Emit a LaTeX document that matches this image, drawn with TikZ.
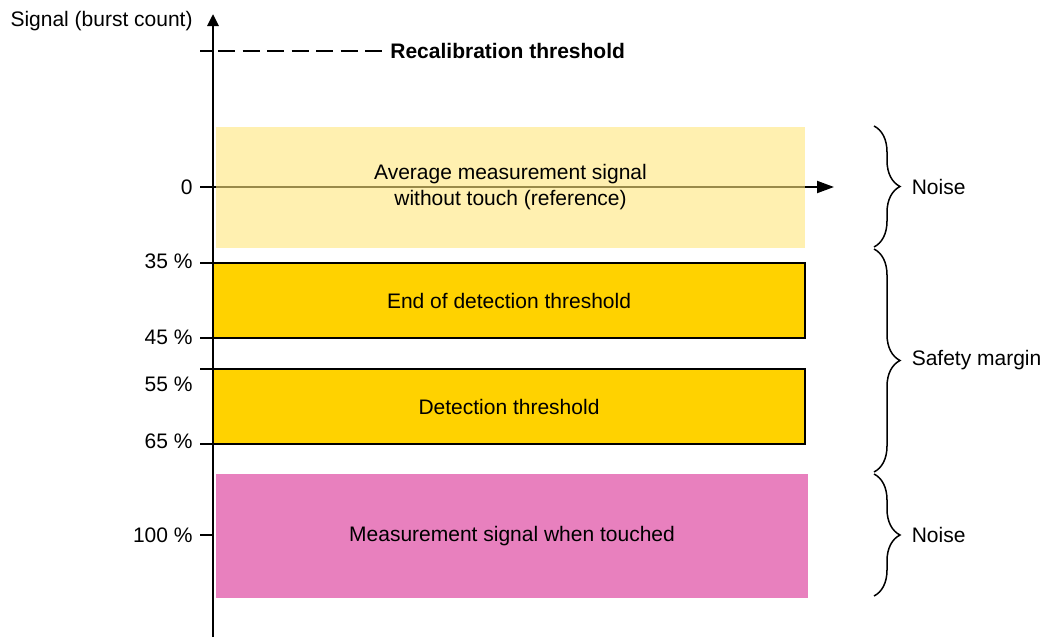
\documentclass[tikz,border=0pt]{standalone}
\usepackage{fontspec}
\setmainfont{Liberation Sans}
\usetikzlibrary{positioning,arrows.meta,decorations.pathreplacing}
\definecolor{refyellow}{RGB}{255,230,123}
\definecolor{detgold}{RGB}{255,210,0}
\definecolor{touchpink}{RGB}{232,128,190}

\begin{document}
\begin{tikzpicture}[x=0.5pt,y=-0.5pt,
  every node/.style={font=\fontsize{10.5}{12}\selectfont},
  band/.style={rectangle,inner sep=0,minimum width=296pt,minimum height=37.5pt,align=center},
  thr/.style={band,draw,line width=1pt,fill=detgold},
  tickline/.style={line width=1pt},
  lbl/.style={anchor=east,inner sep=0},
  brc/.style={decorate,decoration={brace,amplitude=13pt},line width=0.75pt},
  brlbl/.style={anchor=west,xshift=18.5pt,inner sep=0}]
  \useasboundingbox (0,0) rectangle (1049,637);
  \path
  coordinate (axis_bot) at (213,637)
  coordinate (axis_top) at (213,14)
  coordinate (x_end) at (834,187)
  coordinate (dash_start) at (218,51)
  coordinate (dash_end) at (382,51)
  coordinate (t_recal) at (200,51)
  coordinate (t_0) at (200,187)
  coordinate (t_35) at (200,263)
  coordinate (t_45) at (200,338)
  coordinate (t_55) at (200,369)
  coordinate (t_65) at (200,444)
  coordinate (t_100) at (200,535)
  coordinate (br1_top) at (874,126)
  coordinate (br1_bot) at (874,247)
  coordinate (br2_top) at (874,249)
  coordinate (br2_bot) at (874,472)
  coordinate (br3_top) at (874,474)
  coordinate (br3_bot) at (874,596)
  ;
  \draw[line width=1pt,-{Triangle[length=8.5pt,width=6pt]}] (t_0 -| axis_bot) -- (x_end);
  \path
  node[band,fill=refyellow,fill opacity=0.6,text opacity=1,minimum width=294.5pt,minimum height=60.5pt,
    font=\fontsize{10.5}{13}\selectfont] (box_ref) at (510.5,187.5)
  {Average measurement signal\\without touch (reference)}
  node[thr] (box_end) at (509,300.5) {End of detection threshold}
  node[thr] (box_det) at (509,406.5) {Detection threshold}
  node[band,fill=touchpink,minimum height=62pt] (box_touch) at (512,536) {Measurement signal when touched}
  node[lbl] (l_signal) at (193,21) {Signal (burst count)}
  node[lbl] (l_0) at (193,187) {0}
  node[lbl] (l_35) at (193,261) {35 \%}
  node[lbl] (l_45) at (193,337) {45 \%}
  node[lbl] (l_55) at (193,384) {55 \%}
  node[lbl] (l_65) at (193,441) {65 \%}
  node[lbl] (l_100) at (193,535) {100 \%}
  node[anchor=west,inner sep=0,font=\fontsize{10.5}{12}\selectfont\bfseries] (l_recal) at (390,51) {Recalibration threshold}
  ;
  \draw[line width=1.4pt,-{Triangle[length=6pt,width=5.5pt]}] (axis_bot) -- (axis_top);
  \draw[tickline] (t_recal) -- (t_recal -| axis_bot);
  \draw[tickline] (t_0) -- (t_0 -| axis_bot);
  \draw[tickline] (t_35) -- (t_35 -| axis_bot);
  \draw[tickline] (t_45) -- (t_45 -| axis_bot);
  \draw[tickline] (t_55) -- (t_55 -| axis_bot);
  \draw[tickline] (t_65) -- (t_65 -| axis_bot);
  \draw[tickline] (t_100) -- (t_100 -| axis_bot);
  \draw[line width=1pt,dash pattern=on 8.5pt off 3.75pt] (dash_start) -- (dash_end);
  \draw[brc] (br1_top) -- node[brlbl] (l_noise_top) {Noise} (br1_bot);
  \draw[brc] (br2_top) -- node[brlbl] (l_safety) {Safety margin} (br2_bot);
  \draw[brc] (br3_top) -- node[brlbl] (l_noise_bot) {Noise} (br3_bot);
\end{tikzpicture}
\end{document}
